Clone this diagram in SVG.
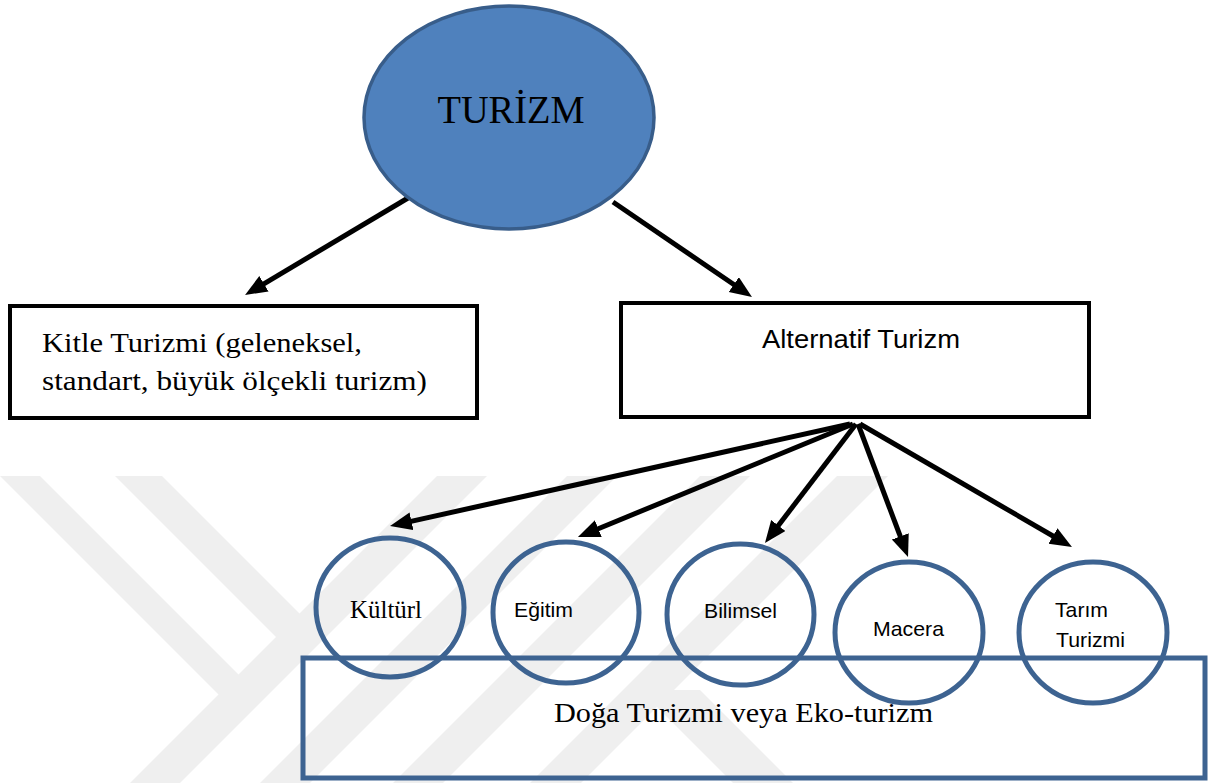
<svg xmlns="http://www.w3.org/2000/svg" width="1228" height="783" viewBox="0 0 1228 783">
  <style>
    .wm { fill: #efefef; }
    .conn { stroke: #000; stroke-width: 5; fill: none; marker-end: url(#arr); }
    .box { fill: #fff; stroke: #000; stroke-width: 4; }
    .circ { fill: none; stroke: #3d6391; stroke-width: 5; }
    .serif { font-family: "Liberation Serif", "DejaVu Serif", serif; fill: #000; }
    .sans { font-family: "Liberation Sans", Arial, sans-serif; fill: #000; }
  </style>
  <defs>
    <marker id="arr" markerUnits="userSpaceOnUse" markerWidth="24" markerHeight="20" refX="4" refY="9" orient="auto">
      <path d="M0,0 L22,9 L0,18 z" fill="#000"/>
    </marker>
  </defs>
  <rect width="1228" height="783" fill="#fff"/>
  <g id="watermark">
    <polygon class="wm" points="0,476 40,476 239,675 219,695 0,476"/>
    <polygon class="wm" points="115,476 162,476 325,639 276,637"/>
    <polygon class="wm" points="437,476 487,476 180,783 130,783"/>
    <polygon class="wm" points="567,476 617,476 310,783 260,783"/>
    <polygon class="wm" points="700,476 750,476 443,783 393,783"/>
    <polygon class="wm" points="837,476 888,476 581,783 530,783"/>
    <polygon class="wm" points="640,690 700,690 793,783 733,783"/>
  </g>

  <g id="connectors">
    <line class="conn" x1="408" y1="198" x2="260.5" y2="285.8"/>
    <line class="conn" x1="613" y1="202" x2="737.1" y2="286.8"/>
    <line class="conn" x1="850" y1="424" x2="407.6" y2="522.1"/>
    <line class="conn" x1="853" y1="424" x2="594.6" y2="530.2"/>
    <line class="conn" x1="856" y1="424" x2="775.9" y2="528.7"/>
    <line class="conn" x1="858" y1="424" x2="901.7" y2="540.2"/>
    <line class="conn" x1="860" y1="424" x2="1056.4" y2="538"/>
  </g>

  <g id="turizm">
    <ellipse cx="509" cy="117.5" rx="145" ry="111.5" fill="#4f81bd" stroke="#385d8a" stroke-width="3.5"/>
    <text class="serif" x="511" y="123" font-size="39" text-anchor="middle" textLength="147" lengthAdjust="spacingAndGlyphs">TURİZM</text>
  </g>

  <g id="kitle">
    <rect class="box" x="10" y="306" width="467" height="112"/>
    <text class="serif" x="42" y="352" font-size="27" textLength="320" lengthAdjust="spacingAndGlyphs">Kitle Turizmi (geleneksel,</text>
    <text class="serif" x="42" y="390" font-size="27" textLength="385" lengthAdjust="spacingAndGlyphs">standart, büyük ölçekli turizm)</text>
  </g>

  <g id="alternatif">
    <rect class="box" x="621" y="303" width="468" height="114"/>
    <text class="sans" x="762" y="348" font-size="25" textLength="198" lengthAdjust="spacingAndGlyphs">Alternatif Turizm</text>
  </g>

  <g id="doga">
    <rect x="303" y="658" width="902" height="120" fill="none" stroke="#3d6391" stroke-width="5"/>
    <text class="serif" x="554" y="722" font-size="27" textLength="379" lengthAdjust="spacingAndGlyphs">Doğa Turizmi veya Eko-turizm</text>
  </g>

  <g id="kulturl">
    <ellipse class="circ" cx="390" cy="607.5" rx="74" ry="69.5"/>
    <text class="serif" x="350" y="618" font-size="25" textLength="72" lengthAdjust="spacingAndGlyphs">Kültürl</text>
  </g>

  <g id="egitim">
    <ellipse class="circ" cx="566" cy="612.5" rx="73" ry="70.5"/>
    <text class="sans" x="514" y="617" font-size="21" textLength="59" lengthAdjust="spacingAndGlyphs">Eğitim</text>
  </g>

  <g id="bilimsel">
    <ellipse class="circ" cx="740.5" cy="614.5" rx="73.5" ry="70.5"/>
    <text class="sans" x="704" y="618" font-size="21" textLength="73" lengthAdjust="spacingAndGlyphs">Bilimsel</text>
  </g>

  <g id="macera">
    <ellipse class="circ" cx="909" cy="632.5" rx="74" ry="70.5"/>
    <text class="sans" x="873" y="636" font-size="21" textLength="71" lengthAdjust="spacingAndGlyphs">Macera</text>
  </g>

  <g id="tarim">
    <ellipse class="circ" cx="1093" cy="632.5" rx="74" ry="70.5"/>
    <text class="sans" x="1055" y="617" font-size="21" textLength="53" lengthAdjust="spacingAndGlyphs">Tarım</text>
    <text class="sans" x="1056" y="647" font-size="21" textLength="69" lengthAdjust="spacingAndGlyphs">Turizmi</text>
  </g>
</svg>
